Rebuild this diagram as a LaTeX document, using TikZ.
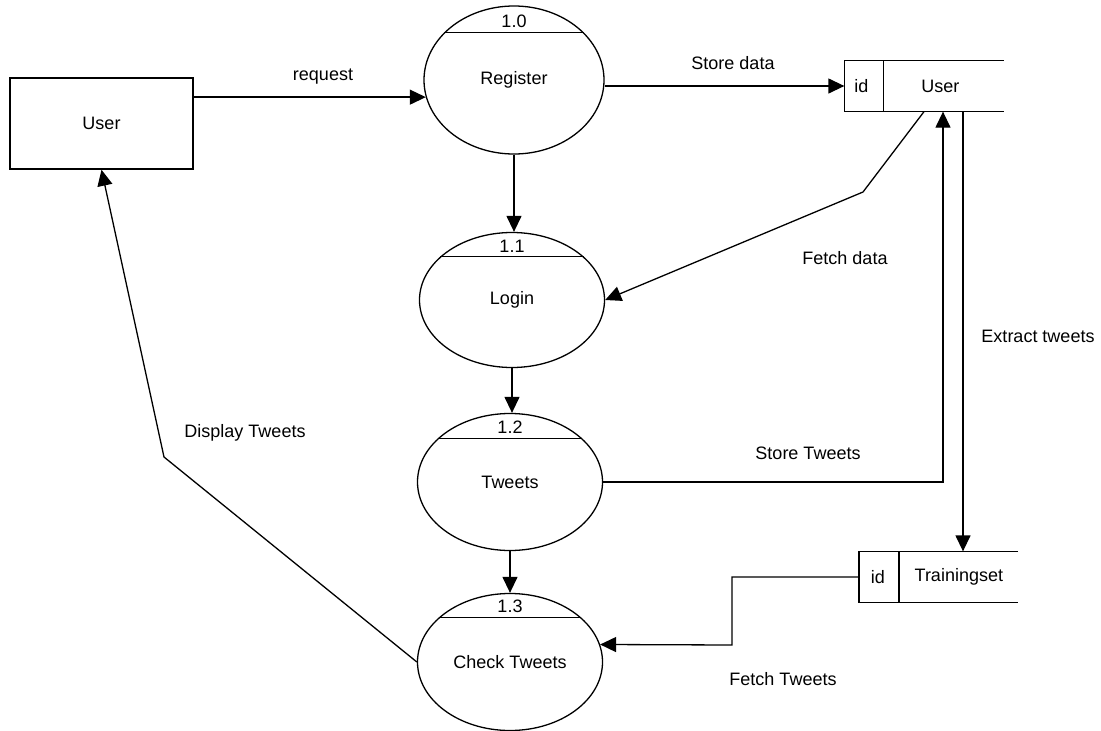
\documentclass[tikz,border=0pt]{standalone}
\usepackage{fontspec}
\setmainfont{Liberation Sans}
\usetikzlibrary{arrows.meta,shapes.geometric}

\begin{document}
\begin{tikzpicture}[
	x=1pt, y=-1pt,
	>={Triangle[length=16pt,width=15pt]},
	line width=1.3pt,
	every node/.style={
		font=\fontsize{18}{21}\selectfont
	},
	entity/.style={
		rectangle,
		draw=black,
		line width=1.5pt,
		minimum width=183pt,
		minimum height=91pt
	},
	process/.style={
		ellipse,
		draw=black,
		inner sep=0pt
	},
	number/.style={
		anchor=south,
		inner sep=4pt
	},
	store/.style={
		rectangle,
		inner sep=0pt,
		minimum width=158pt,
		minimum height=50pt
	},
	flowlabel/.style={
		inner sep=1pt
	},
]
\useasboundingbox (0,0) rectangle (1101,731);

% External entity
\node[entity] (user) at (101.5,123.5) {User};

% Processes
\foreach \n/\x/\y/\w/\h/\a/\num/\txt in {
	0/514/80/180/148/34/1.0/Register,
	1/512/300/185/135/31/1.1/Login,
	2/510/482/185/137/31/1.2/Tweets,
	3/510/662/185/137/32/1.3/Check Tweets}
{
	\pgfmathtruncatemacro\b{180-\a}
	\node[process,minimum width=\w pt,minimum height=\h pt] (p\n) at (\x,\y) {\txt};
	\draw (p\n.\b) -- (p\n.\a);
	\node[number] (num\n) at (p\n.\a -| p\n.center) {\num};
}

% Data stores
\node[store] (dsuser) at (924,86) {};
\node[store] (dstrain) at (938.5,577) {};

\foreach \s/\d in {dsuser/39, dstrain/40}
{
	\draw (\s.north east) -- (\s.north west) -- (\s.south west) -- (\s.south east);
	\draw ([xshift=\d pt]\s.north west) -- ([xshift=\d pt]\s.south west);
}

\node (iduser) at ([xshift=17pt]dsuser.west) {id};
\node (nameuser) at ([xshift=96pt]dsuser.west) {User};
\node (idtrain) at ([xshift=19pt]dstrain.west) {id};
\node (nametrain) at ([xshift=100pt]dstrain.west) {Trainingset};

% Bend points
\coordinate (fdbend) at (863,192);
\coordinate (ftbend) at (732,645);
\coordinate (dtbend) at (164,457);

% Flows
\draw[->] (p0.191 -| user.east) -- (p0.191);
\draw[->] (p0.south) -- (p0.south |- p1.north);
\draw[->] (p1.south) -- (p1.south |- p2.north);
\draw[->] (p2.south) -- (p2.south |- p3.north);
\draw[->] (dsuser.west -| p0.east) -- (dsuser.west);
\draw[->] (dsuser.south) -- (fdbend) -- (p1.east);
\draw[->] (p2.east) -| ([xshift=19pt]dsuser.south);
\draw[->] ([xshift=39pt]dsuser.south) -- ([xshift=39pt]dsuser.south |- dstrain.north);
\draw[->] (dstrain.west) -| (ftbend) -- (p3.11);
\draw[->] (p3.west) -- (dtbend) -- (user.south);

% Flow labels
\node[flowlabel] (lrequest) at (323,77) {request};
\node[flowlabel] (lstoredata) at (733,63) {Store data};
\node[flowlabel] (lfetchdata) at (845,258) {Fetch data};
\node[flowlabel] (lextract) at (1038,336) {Extract tweets};
\node[flowlabel] (lstoretweets) at (808,453) {Store Tweets};
\node[flowlabel] (ldisplay) at (245,433) {Display Tweets};
\node[flowlabel] (lfetchtweets) at (783,679) {Fetch Tweets};

\end{tikzpicture}
\end{document}
